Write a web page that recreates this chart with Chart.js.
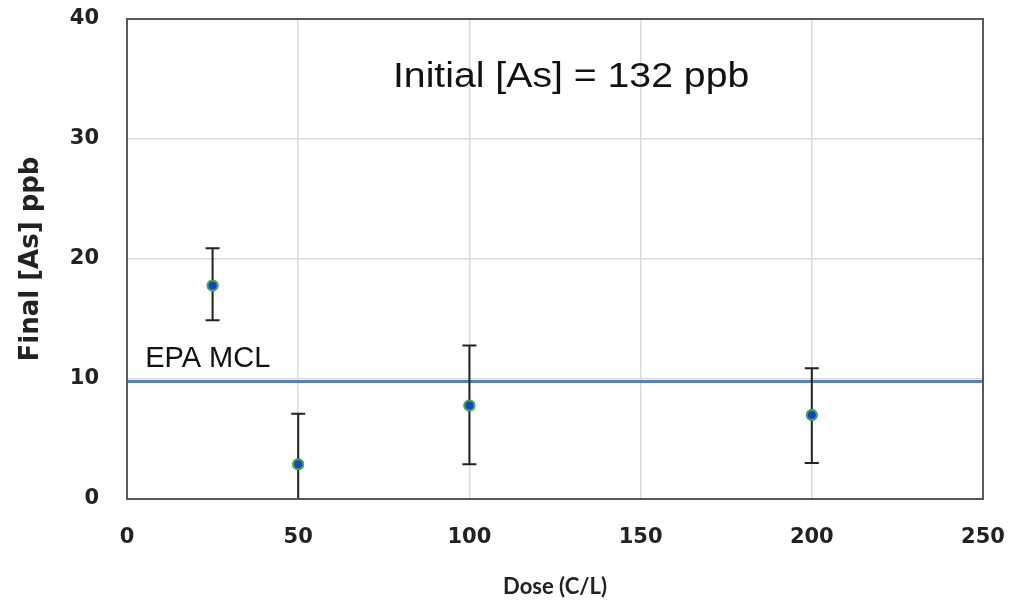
<!DOCTYPE html>
<html>
<head>
<meta charset="utf-8">
<script src="https://cdn.jsdelivr.net/npm/chart.js@4"></script>
<style>
  html, body { margin: 0; padding: 0; background: #fff; }
  #wrap { width: 1015px; height: 604px; }
</style>
</head>
<body>
<div id="wrap"><canvas id="myChart" width="1015" height="604"></canvas></div>
<script>
// doses (C/L) and measured final arsenic (ppb)
var doses = [25, 50, 100, 200];
var finalAs = [17.8, 2.9, 7.8, 7.0];
var errLow = [14.9, 0, 2.9, 3.0];
var errHigh = [20.9, 7.1, 12.8, 10.9];
var mclLevel = 9.8;
var xTicks = [0, 50, 100, 150, 200, 250];
var yTicks = [0, 10, 20, 30, 40];

var points = [];
for (let i = 0; i < doses.length; i++) {
    points.push({ x: doses[i], y: finalAs[i], lo: errLow[i], hi: errHigh[i] });
}

// error bars, frame and text labels
var extras = {
    id: 'extras',
    afterDatasetsDraw(chart) {
        let ctx = chart.ctx;
        let xs = chart.scales.x, ys = chart.scales.y;
        let a = chart.chartArea;
        ctx.save();
        ctx.strokeStyle = '#222';
        ctx.lineWidth = 2;
        points.forEach((p) => {
            let px = xs.getPixelForValue(p.x);
            let top = ys.getPixelForValue(p.hi);
            let bot = ys.getPixelForValue(p.lo);
            ctx.beginPath();
            ctx.moveTo(px, top); ctx.lineTo(px, bot);
            ctx.moveTo(px - 7, top); ctx.lineTo(px + 7, top);
            if (p.lo > 0) { ctx.moveTo(px - 7, bot); ctx.lineTo(px + 7, bot); }
            ctx.stroke();
        });
        // redraw points on top of the bars
        let meta = chart.getDatasetMeta(1);
        meta.data.forEach((el) => el.draw(ctx, a));

        ctx.strokeStyle = '#595959';
        ctx.lineWidth = 2;
        ctx.strokeRect(a.left, a.top, a.right - a.left, a.bottom - a.top);

        ctx.fillStyle = '#111';
        ctx.textBaseline = 'middle';
        ctx.textAlign = 'center';
        ctx.save();
        ctx.translate(xs.getPixelForValue(129.7), ys.getPixelForValue(35.1));
        ctx.scale(1.12, 1);
        ctx.font = '35px "Liberation Sans", Arial, sans-serif';
        ctx.fillText('Initial [As] = 132 ppb', 0, 0);
        ctx.restore();
        ctx.textAlign = 'left';
        ctx.font = '29px "Liberation Sans", Arial, sans-serif';
        ctx.fillText('EPA MCL', xs.getPixelForValue(5.3), ys.getPixelForValue(11.7));
        ctx.restore();
    }
};

let ctx = document.getElementById('myChart');
new Chart(ctx, {
    type: 'scatter',
    data: {
        datasets: [{
            type: 'line',
            label: 'EPA MCL',
            data: [{ x: 0, y: mclLevel }, { x: 250, y: mclLevel }],
            borderColor: '#4f81c4',
            borderWidth: 3,
            pointRadius: 0
        }, {
            label: 'Final [As]',
            data: points,
            backgroundColor: '#1c3fd0',
            borderColor: '#3cb043',
            borderWidth: 2,
            pointRadius: 5
        }]
    },
    plugins: [extras],
    options: {
        responsive: false,
        animation: false,
        layout: { padding: { top: 19, right: 32, left: 0, bottom: 0 } },
        plugins: { legend: { display: false }, tooltip: { enabled: false } },
        scales: {
            x: {
                type: 'linear', min: 0, max: 250,
                afterFit(s) { s.height = 105; s.paddingLeft = 0; s.paddingRight = 0; },
                afterBuildTicks(s) { s.ticks = xTicks.map((v) => ({ value: v })); },
                grid: { color: '#d9d9d9', lineWidth: 1.5, drawTicks: false },
                border: { display: false },
                ticks: { padding: 26, color: '#222', font: { family: 'DejaVu Sans', weight: 'bold', size: 21 } },
                title: { display: true, text: 'Dose (C/L)', color: '#222', padding: { bottom: 4 },
                    font: { family: 'Lato', weight: 'bold', size: 22 } }
            },
            y: {
                type: 'linear', min: 0, max: 40,
                afterFit(s) { s.width = 127; s.paddingTop = 0; s.paddingBottom = 0; },
                afterBuildTicks(s) { s.ticks = yTicks.map((v) => ({ value: v })); },
                grid: { color: '#d9d9d9', lineWidth: 1.5, drawTicks: false },
                border: { display: false },
                ticks: { padding: 28, color: '#222', font: { family: 'DejaVu Sans', weight: 'bold', size: 21 } },
                title: { display: true, text: 'Final [As] ppb', color: '#222', padding: { top: 16 },
                    font: { family: 'DejaVu Sans', weight: 'bold', size: 26 } }
            }
        }
    }
});
</script>
</body>
</html>
